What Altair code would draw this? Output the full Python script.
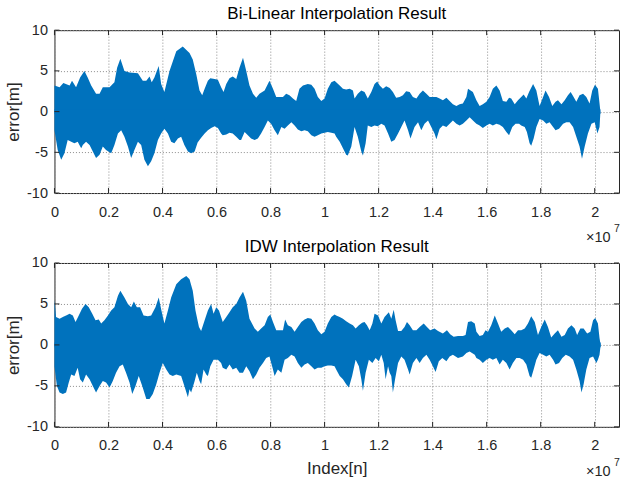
import altair as alt
import pandas as pd

FONT = "Liberation Sans"
BLUE = "#0072BD"
INK = "#262626"

titles = ["Bi-Linear Interpolation Result", "IDW Interpolation Result"]
y_title = "error[m]"
x_title = "Index[n]"
exponent_text = "×10"
exponent_power = "7"

x_tick_values = [0, 0.2, 0.4, 0.6, 0.8, 1.0, 1.2, 1.4, 1.6, 1.8, 2.0]
y_tick_values = [-10, -5, 0, 5, 10]
x_max = 2.09

# ---------- Bi-Linear (top) envelope, x in units of 1e7 samples ----------
bl_upper_x = [0.000, 0.019, 0.033, 0.056, 0.065, 0.080, 0.095, 0.111, 0.123, 0.136,
              0.154, 0.167, 0.179, 0.204, 0.222, 0.232, 0.244, 0.259, 0.278, 0.309,
              0.327, 0.340, 0.352, 0.360, 0.370, 0.386, 0.395, 0.407, 0.426, 0.451,
              0.475, 0.500, 0.512, 0.525, 0.537, 0.547, 0.556, 0.568, 0.577, 0.593,
              0.605, 0.617, 0.626, 0.636, 0.648, 0.660, 0.673, 0.685, 0.698, 0.710,
              0.722, 0.735, 0.747, 0.759, 0.778, 0.790, 0.796, 0.809, 0.821, 0.846,
              0.858, 0.870, 0.883, 0.895, 0.907, 0.920, 0.938, 0.951, 0.963, 0.975,
              0.988, 1.000, 1.012, 1.025, 1.037, 1.043, 1.056, 1.068, 1.080, 1.093,
              1.105, 1.111, 1.123, 1.136, 1.148, 1.160, 1.173, 1.185, 1.195, 1.204,
              1.216, 1.228, 1.241, 1.253, 1.265, 1.278, 1.290, 1.302, 1.315, 1.327,
              1.340, 1.352, 1.364, 1.377, 1.389, 1.401, 1.414, 1.426, 1.438, 1.451,
              1.463, 1.475, 1.488, 1.500, 1.512, 1.525, 1.531, 1.549, 1.562, 1.574,
              1.586, 1.599, 1.611, 1.623, 1.636, 1.648, 1.660, 1.673, 1.683, 1.691,
              1.704, 1.716, 1.728, 1.737, 1.747, 1.757, 1.772, 1.784, 1.796, 1.809,
              1.818, 1.831, 1.843, 1.855, 1.864, 1.877, 1.889, 1.901, 1.911, 1.922,
              1.932, 1.944, 1.957, 1.969, 1.981, 1.991, 2.001, 2.012, 2.018, 2.021]
bl_upper_y = [3.2, 3.0, 3.5, 3.2, 3.8, 3.0, 4.2, 5.0, 4.2, 3.2,
              2.2, 2.2, 3.0, 3.0, 3.6, 5.4, 6.5, 5.0, 4.8, 4.7,
              3.8, 3.8, 4.3, 3.6, 4.2, 5.6, 3.4, 2.4, 5.0, 7.4,
              8.0, 7.2, 6.4, 4.6, 2.6, 2.0, 2.8, 3.8, 4.1, 4.0,
              3.9, 3.0, 2.4, 3.4, 4.1, 4.3, 4.0, 5.4, 6.6, 5.0,
              3.2, 2.2, 1.7, 2.2, 2.6, 3.4, 3.8, 2.8, 1.8, 1.8,
              2.2, 2.0, 1.6, 1.3, 2.8, 3.2, 3.4, 3.3, 2.8, 1.8,
              1.3, 1.6, 2.8, 3.6, 3.8, 3.6, 3.2, 2.8, 2.7, 2.8,
              2.6, 1.6, 2.2, 2.6, 2.4, 1.6, 2.4, 3.4, 3.7, 3.2,
              2.8, 3.1, 2.9, 2.4, 1.7, 1.8, 2.0, 2.5, 2.4, 1.8,
              1.6, 2.2, 2.6, 2.2, 1.8, 1.8, 1.8, 1.6, 1.4, 1.7,
              1.3, 0.9, 0.7, 0.9, 1.0, 1.8, 2.8, 2.4, 1.4, 0.7,
              0.9, 1.2, 1.8, 2.8, 3.2, 2.6, 1.3, 1.2, 1.7, 1.6,
              0.9, 1.4, 1.8, 2.1, 1.6, 2.4, 3.4, 2.6, 0.7, 1.8,
              2.6, 1.8, 0.7, 1.2, 1.4, 0.9, 1.4, 2.0, 2.4, 1.8,
              1.2, 2.0, 2.2, 1.8, 1.0, 2.6, 3.3, 2.8, 1.0, 0.0]
bl_lower_x = [0.000, 0.012, 0.025, 0.037, 0.049, 0.062, 0.074, 0.086, 0.099, 0.105,
              0.117, 0.130, 0.142, 0.154, 0.167, 0.179, 0.191, 0.210, 0.222, 0.235,
              0.247, 0.259, 0.272, 0.284, 0.296, 0.309, 0.321, 0.333, 0.346, 0.358,
              0.370, 0.383, 0.395, 0.407, 0.420, 0.432, 0.444, 0.457, 0.469, 0.481,
              0.494, 0.506, 0.519, 0.530, 0.543, 0.556, 0.568, 0.580, 0.593, 0.605,
              0.617, 0.623, 0.636, 0.648, 0.660, 0.673, 0.685, 0.691, 0.704, 0.716,
              0.728, 0.741, 0.753, 0.765, 0.778, 0.790, 0.802, 0.815, 0.827, 0.840,
              0.852, 0.864, 0.877, 0.889, 0.901, 0.914, 0.926, 0.938, 0.951, 0.963,
              0.975, 0.988, 1.000, 1.012, 1.025, 1.037, 1.043, 1.056, 1.068, 1.080,
              1.086, 1.099, 1.111, 1.123, 1.136, 1.142, 1.152, 1.160, 1.173, 1.185,
              1.197, 1.210, 1.222, 1.235, 1.247, 1.259, 1.272, 1.284, 1.296, 1.309,
              1.318, 1.333, 1.346, 1.358, 1.370, 1.383, 1.395, 1.407, 1.414, 1.426,
              1.438, 1.451, 1.463, 1.475, 1.488, 1.500, 1.512, 1.525, 1.537, 1.556,
              1.562, 1.574, 1.586, 1.599, 1.611, 1.623, 1.636, 1.648, 1.660, 1.673,
              1.683, 1.695, 1.707, 1.720, 1.728, 1.741, 1.749, 1.759, 1.765, 1.774,
              1.784, 1.796, 1.809, 1.821, 1.833, 1.846, 1.855, 1.868, 1.883, 1.895,
              1.907, 1.920, 1.932, 1.944, 1.953, 1.963, 1.975, 1.988, 2.000, 2.010,
              2.018, 2.021]
bl_lower_y = [-2.3, -4.7, -5.9, -5.1, -3.5, -3.7, -3.9, -3.7, -4.5, -4.1,
              -3.7, -4.1, -4.9, -5.7, -5.3, -4.3, -4.7, -5.1, -4.1, -2.7,
              -2.3, -3.1, -4.3, -5.7, -4.7, -3.7, -4.1, -5.9, -6.7, -6.1,
              -5.1, -3.5, -2.7, -2.1, -2.7, -3.7, -3.9, -3.3, -3.1, -4.1,
              -4.9, -5.1, -4.9, -3.8, -3.2, -2.7, -2.3, -2.0, -1.8, -2.0,
              -2.7, -2.9, -2.8, -2.6, -2.7, -3.1, -3.5, -3.5, -2.5, -2.9,
              -3.3, -3.5, -3.3, -2.7, -1.9, -1.1, -1.5, -2.3, -2.9, -1.9,
              -2.1, -1.7, -1.3, -1.7, -2.2, -2.4, -2.3, -2.4, -2.9, -3.1,
              -2.9, -2.7, -2.6, -2.5, -2.6, -2.7, -3.1, -3.7, -4.5, -5.3,
              -5.4, -4.3, -1.9, -3.1, -4.9, -5.4, -3.9, -1.7, -1.9, -1.7,
              -1.8, -1.5, -1.7, -2.7, -3.7, -3.5, -2.7, -1.9, -1.1, -2.3,
              -3.3, -1.9, -1.3, -2.3, -1.5, -1.1, -1.9, -2.7, -3.4, -2.1,
              -1.7, -1.9, -1.5, -1.1, -1.5, -1.7, -1.5, -1.1, -0.7, -1.3,
              -1.5, -1.7, -2.0, -1.7, -1.5, -1.7, -1.5, -1.6, -1.9, -2.5,
              -2.9, -1.9, -1.5, -1.5, -1.7, -1.9, -2.5, -3.9, -4.2, -3.3,
              -1.9, -0.9, -1.1, -1.5, -1.3, -1.9, -2.3, -2.1, -1.5, -1.3,
              -1.3, -1.9, -3.1, -4.3, -5.8, -4.3, -2.7, -1.5, -1.3, -2.7,
              -1.9, -0.1]

# ---------- IDW (bottom) envelope ----------
idw_upper_x = [0.000, 0.006, 0.019, 0.031, 0.043, 0.056, 0.068, 0.078, 0.090, 0.102,
               0.115, 0.127, 0.140, 0.152, 0.164, 0.173, 0.185, 0.198, 0.210, 0.222,
               0.235, 0.244, 0.259, 0.272, 0.284, 0.294, 0.305, 0.317, 0.330, 0.346,
               0.358, 0.374, 0.386, 0.396, 0.407, 0.420, 0.432, 0.451, 0.469, 0.488,
               0.500, 0.512, 0.522, 0.535, 0.543, 0.556, 0.568, 0.580, 0.589, 0.599,
               0.609, 0.623, 0.636, 0.648, 0.660, 0.673, 0.685, 0.698, 0.710, 0.722,
               0.741, 0.753, 0.765, 0.778, 0.790, 0.799, 0.809, 0.821, 0.846, 0.854,
               0.864, 0.877, 0.889, 0.901, 0.914, 0.926, 0.938, 0.951, 0.963, 0.975,
               0.988, 1.000, 1.012, 1.025, 1.037, 1.043, 1.056, 1.068, 1.080, 1.093,
               1.105, 1.115, 1.127, 1.139, 1.148, 1.157, 1.167, 1.177, 1.185, 1.198,
               1.210, 1.222, 1.238, 1.247, 1.256, 1.263, 1.272, 1.284, 1.296, 1.305,
               1.315, 1.327, 1.340, 1.352, 1.367, 1.379, 1.391, 1.407, 1.420, 1.438,
               1.453, 1.465, 1.478, 1.494, 1.512, 1.522, 1.531, 1.543, 1.556, 1.562,
               1.574, 1.586, 1.596, 1.605, 1.617, 1.630, 1.642, 1.654, 1.667, 1.679,
               1.691, 1.704, 1.716, 1.728, 1.741, 1.753, 1.765, 1.778, 1.790, 1.802,
               1.815, 1.827, 1.839, 1.852, 1.864, 1.877, 1.889, 1.901, 1.914, 1.926,
               1.935, 1.947, 1.959, 1.972, 1.984, 1.994, 2.002, 2.012, 2.018, 2.022]
idw_upper_y = [5.5, 3.4, 3.2, 3.4, 3.6, 3.8, 3.6, 2.8, 3.6, 4.4,
               5.0, 4.6, 3.8, 3.0, 3.1, 2.6, 3.0, 3.6, 4.2, 4.6,
               6.0, 6.6, 5.8, 5.0, 4.6, 5.3, 4.6, 4.6, 3.6, 3.5,
               3.6, 4.6, 5.8, 4.2, 2.6, 4.2, 5.8, 7.4, 8.0, 8.4,
               8.0, 6.6, 4.2, 2.2, 1.7, 3.0, 4.2, 5.0, 3.8, 4.6,
               4.2, 2.8, 3.4, 4.0, 4.6, 5.0, 5.8, 6.5, 5.4, 3.2,
               2.0, 1.6, 2.0, 2.4, 3.4, 3.7, 2.8, 1.8, 1.8, 3.1,
               2.4, 2.2, 1.6, 2.2, 2.8, 3.1, 3.3, 3.2, 2.6, 1.8,
               1.3, 1.6, 2.6, 3.4, 3.7, 3.6, 3.4, 3.2, 2.9, 2.6,
               2.4, 2.0, 2.4, 2.7, 2.8, 2.4, 1.8, 2.6, 3.8, 3.6,
               2.6, 3.4, 4.0, 3.2, 4.3, 3.0, 1.7, 1.7, 2.2, 2.8,
               2.4, 1.8, 1.8, 2.2, 2.6, 2.2, 1.8, 2.0, 1.7, 1.4,
               1.8, 1.3, 1.0, 1.1, 1.1, 1.2, 2.8, 2.9, 2.6, 1.6,
               1.1, 1.2, 1.8, 1.6, 2.4, 3.6, 2.6, 1.6, 2.0, 2.2,
               1.8, 1.3, 1.8, 1.8, 2.0, 2.6, 3.5, 2.8, 1.2, 2.2,
               3.1, 2.2, 0.9, 1.4, 1.8, 1.0, 1.2, 2.0, 2.4, 2.0,
               1.2, 2.0, 2.0, 1.4, 1.6, 3.0, 3.3, 2.6, 0.8, 0.0]
idw_lower_x = [0.000, 0.009, 0.019, 0.031, 0.043, 0.053, 0.062, 0.074, 0.086, 0.095,
               0.105, 0.117, 0.130, 0.142, 0.154, 0.167, 0.179, 0.191, 0.204, 0.216,
               0.228, 0.241, 0.253, 0.265, 0.278, 0.288, 0.300, 0.312, 0.325, 0.340,
               0.352, 0.364, 0.377, 0.389, 0.401, 0.414, 0.426, 0.438, 0.451, 0.469,
               0.481, 0.494, 0.500, 0.506, 0.519, 0.527, 0.537, 0.543, 0.552, 0.562,
               0.568, 0.577, 0.589, 0.605, 0.617, 0.623, 0.636, 0.648, 0.660, 0.673,
               0.685, 0.698, 0.710, 0.722, 0.735, 0.747, 0.759, 0.772, 0.784, 0.796,
               0.809, 0.815, 0.827, 0.840, 0.852, 0.864, 0.877, 0.889, 0.901, 0.914,
               0.926, 0.938, 0.951, 0.963, 0.975, 0.988, 1.000, 1.012, 1.025, 1.037,
               1.043, 1.056, 1.068, 1.080, 1.090, 1.102, 1.115, 1.127, 1.136, 1.142,
               1.152, 1.164, 1.177, 1.189, 1.201, 1.210, 1.219, 1.226, 1.235, 1.241,
               1.247, 1.253, 1.261, 1.272, 1.284, 1.296, 1.309, 1.315, 1.327, 1.340,
               1.352, 1.364, 1.377, 1.389, 1.401, 1.411, 1.423, 1.436, 1.451, 1.463,
               1.475, 1.494, 1.512, 1.525, 1.537, 1.556, 1.562, 1.574, 1.586, 1.599,
               1.611, 1.623, 1.636, 1.648, 1.660, 1.673, 1.685, 1.697, 1.710, 1.722,
               1.735, 1.747, 1.759, 1.765, 1.774, 1.784, 1.796, 1.809, 1.821, 1.833,
               1.846, 1.855, 1.868, 1.880, 1.893, 1.907, 1.920, 1.932, 1.944, 1.951,
               1.959, 1.969, 1.981, 1.994, 2.006, 2.012, 2.018, 2.022]
idw_lower_y = [-2.6, -5.0, -5.8, -6.0, -5.8, -4.6, -3.6, -3.8, -2.8, -4.2,
               -4.6, -3.6, -4.2, -5.0, -5.8, -5.0, -4.4, -4.6, -5.2, -4.4,
               -3.4, -2.6, -2.4, -3.4, -4.6, -6.0, -5.0, -3.8, -5.0, -6.6,
               -6.6, -6.0, -4.8, -3.4, -2.2, -3.0, -3.6, -3.8, -3.6, -3.8,
               -5.0, -6.4, -5.4, -5.8, -4.4, -3.4, -4.4, -4.8, -3.0, -3.6,
               -3.8, -2.6, -1.8, -1.8, -2.2, -2.8, -3.0, -2.4, -3.0, -2.8,
               -3.4, -3.4, -2.6, -3.2, -4.2, -3.6, -2.8, -2.2, -1.6, -1.4,
               -3.0, -3.8, -3.0, -3.4, -1.8, -1.6, -1.2, -1.4, -2.2, -2.8,
               -2.4, -2.2, -2.6, -3.0, -2.8, -2.8, -2.6, -2.5, -2.5, -2.6,
               -3.0, -3.8, -4.2, -4.8, -5.2, -3.8, -1.8, -2.6, -4.2, -5.6,
               -3.4, -1.8, -2.2, -1.6, -2.0, -1.2, -2.2, -4.2, -2.6, -3.4,
               -3.8, -5.8, -4.2, -2.2, -1.4, -1.8, -3.0, -3.6, -2.2, -1.6,
               -2.2, -1.6, -1.2, -1.8, -2.6, -3.3, -2.0, -1.6, -2.0, -1.4,
               -1.2, -1.6, -1.4, -1.0, -0.8, -1.2, -1.6, -1.8, -2.2, -1.8,
               -1.6, -1.8, -1.6, -2.4, -1.8, -2.2, -3.0, -2.2, -1.6, -1.6,
               -1.8, -2.4, -3.8, -4.0, -3.0, -1.8, -1.0, -1.2, -1.4, -1.2,
               -1.8, -2.4, -2.2, -1.6, -1.2, -1.4, -1.8, -3.0, -4.4, -5.8,
               -4.8, -3.0, -1.6, -1.4, -2.2, -1.8, -1.2, 0.0]

PLOT_W = 565


def panel(title, ux, uy, lx, ly, height, xlab):
    xs = alt.Scale(domain=[0, x_max], nice=False, zero=False)
    ys = alt.Scale(domain=[-10, 10], nice=False, zero=False)

    x_axis = alt.Axis(values=x_tick_values, format="~g", grid=True, gridDash=[1, 2],
                      gridColor="#8c8c8c", gridWidth=1, ticks=False, domain=False,
                      labelFont=FONT, labelFontSize=14.5, labelColor=INK,
                      labelPadding=12, labelFlush=False, labelOverlap=False,
                      titleFont=FONT, titleFontSize=17, titleFontWeight="normal",
                      titleColor=INK, titlePadding=8)
    y_axis = alt.Axis(values=y_tick_values, labelExpr="'' + datum.value", grid=True,
                      gridDash=[1, 2], gridColor="#8c8c8c", gridWidth=1, ticks=False,
                      domain=False, labelFont=FONT, labelFontSize=14.5, labelColor=INK,
                      labelPadding=7, labelFlush=False, labelOverlap=False,
                      titleFont=FONT, titleFontSize=17, titleFontWeight="normal",
                      titleColor=INK, titlePadding=4)

    x_enc = alt.X("x:Q", scale=xs, axis=x_axis, title=xlab)
    y_enc = alt.Y("y:Q", scale=ys, axis=y_axis, title=y_title)

    up = pd.DataFrame({"x": ux, "y": uy})
    lo = pd.DataFrame({"x": lx, "y": ly})

    upper_area = alt.Chart(up).mark_area(color=BLUE, opacity=1).encode(
        x=x_enc, y=y_enc, y2=alt.datum(-0.3))
    lower_area = alt.Chart(lo).mark_area(color=BLUE, opacity=1).encode(
        x=x_enc, y=y_enc, y2=alt.datum(0.3))

    xt = pd.DataFrame({"x": x_tick_values})
    yt = pd.DataFrame({"y": y_tick_values})
    tick_len = 5
    bottom_ticks = alt.Chart(xt).mark_rule(color=INK, strokeWidth=1).encode(
        x=x_enc, y=alt.value(height), y2=alt.value(height - tick_len))
    top_ticks = alt.Chart(xt).mark_rule(color=INK, strokeWidth=1).encode(
        x=x_enc, y=alt.value(0), y2=alt.value(tick_len))
    left_ticks = alt.Chart(yt).mark_rule(color=INK, strokeWidth=1).encode(
        y=y_enc, x=alt.value(0), x2=alt.value(tick_len))
    right_ticks = alt.Chart(yt).mark_rule(color=INK, strokeWidth=1).encode(
        y=y_enc, x=alt.value(PLOT_W - tick_len), x2=alt.value(PLOT_W))

    exp_base = alt.Chart(pd.DataFrame({"t": [exponent_text]})).mark_text(
        align="left", baseline="alphabetic", font=FONT, fontSize=14.5, color=INK
    ).encode(x=alt.value(532), y=alt.value(height + 49), text="t:N")
    exp_pow = alt.Chart(pd.DataFrame({"t": [exponent_power]})).mark_text(
        align="left", baseline="alphabetic", font=FONT, fontSize=10.5, color=INK
    ).encode(x=alt.value(560), y=alt.value(height + 39), text="t:N")

    return alt.layer(
        upper_area, lower_area, bottom_ticks, top_ticks, left_ticks, right_ticks,
        exp_base, exp_pow
    ).properties(
        width=PLOT_W, height=height,
        title=alt.TitleParams(text=title, font=FONT, fontSize=17, fontWeight="normal",
                              color="#000000", offset=-1, anchor="middle"),
    )


top = panel(titles[0], bl_upper_x, bl_upper_y, bl_lower_x, bl_lower_y, 163, "")
bottom = panel(titles[1], idw_upper_x, idw_upper_y, idw_lower_x, idw_lower_y, 164, x_title)

chart = alt.vconcat(top, bottom, spacing=70, bounds="flush").properties(
    padding={"left": 3.5, "top": 4, "right": 0, "bottom": 0},
    background="white",
).configure_view(stroke=INK, strokeWidth=1)

chart.save("out.html", embed_options={"renderer": "svg", "actions": False})
